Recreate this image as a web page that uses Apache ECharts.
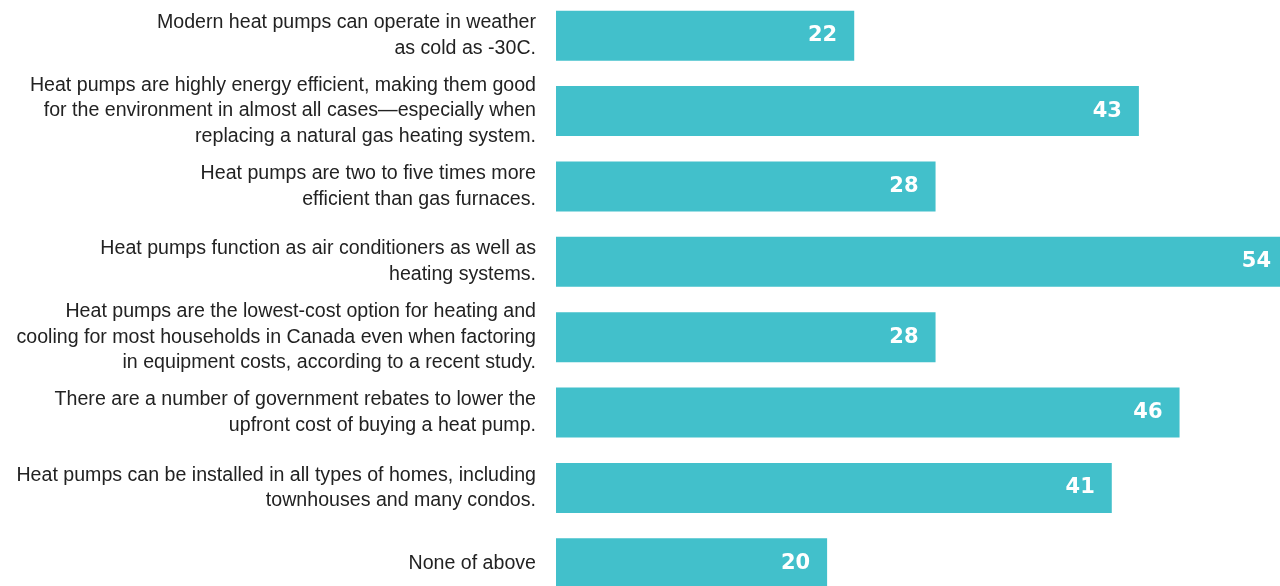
<!DOCTYPE html>
<html><head><meta charset="utf-8">
<script src="https://cdn.jsdelivr.net/npm/echarts@6/dist/echarts.min.js"></script>
<style>html,body{margin:0;padding:0;background:#fff}#c{width:1280px;height:586px}</style>
</head><body><div id="c"></div>
<script>
const categories = [
  "Modern heat pumps can operate in weather\nas cold as -30C.",
  "Heat pumps are highly energy efficient, making them good\nfor the environment in almost all cases\u2014especially when\nreplacing a natural gas heating system.",
  "Heat pumps are two to five times more\nefficient than gas furnaces.",
  "Heat pumps function as air conditioners as well as\nheating systems.",
  "Heat pumps are the lowest-cost option for heating and\ncooling for most households in Canada even when factoring\nin equipment costs, according to a recent study.",
  "There are a number of government rebates to lower the\nupfront cost of buying a heat pump.",
  "Heat pumps can be installed in all types of homes, including\ntownhouses and many condos.",
  "None of above"
];
const values = [22, 43, 28, 54, 28, 46, 41, 20];

const chart = echarts.init(document.getElementById('c'), null, {renderer: 'canvas'});
chart.setOption({
  animation: false,
  backgroundColor: '#ffffff',
  grid: {left: 556, width: 732, top: -2, height: 603, containLabel: false, outerBoundsMode: 'none'},
  xAxis: {type: 'value', min: 0, max: 54, show: false},
  yAxis: {
    type: 'category', data: categories, inverse: true,
    axisLine: {show: false}, axisTick: {show: false},
    axisLabel: {
      margin: 20, align: 'right', color: '#222222',
      fontFamily: 'Liberation Sans, Arial, sans-serif', fontSize: 19.6, lineHeight: 25.5
    }
  },
  series: [{
    type: 'bar', data: values, barWidth: 50, clip: false,
    itemStyle: {color: '#42C0CB'},
    label: {
      show: true, position: 'insideRight', distance: 17,
      color: '#ffffff', fontWeight: 'bold', fontSize: 21,
      fontFamily: 'DejaVu Sans, sans-serif'
    }
  }]
});
</script></body></html>
